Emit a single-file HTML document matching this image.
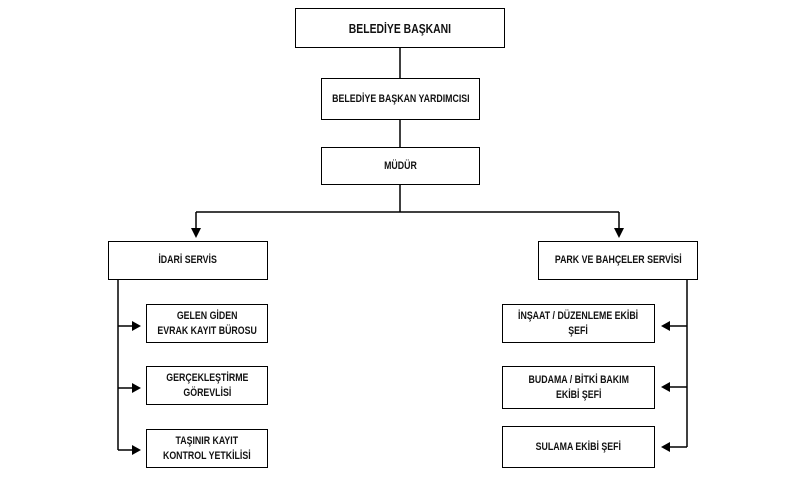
<!DOCTYPE html>
<html><head><meta charset="utf-8"><style>
body{margin:0;width:800px;height:502px;background:#fff;position:relative;overflow:hidden;font-family:"Liberation Sans",sans-serif;}
.b{position:absolute;border:1px solid #000;box-sizing:border-box;display:flex;align-items:center;justify-content:center;text-align:center;font-size:11px;font-weight:bold;line-height:15px;color:#111;background:#fff;white-space:nowrap}
.b span{display:inline-block;transform:scaleX(0.8)}
</style></head><body>
<svg width="800" height="502" style="position:absolute;left:0;top:0">
<g stroke="#000" stroke-width="1.5" fill="none">
<line x1="400" y1="48" x2="400" y2="78"/>
<line x1="400" y1="120" x2="400" y2="147"/>
<line x1="400" y1="185" x2="400" y2="212"/>
<line x1="196" y1="212" x2="619" y2="212"/>
<line x1="196" y1="212" x2="196" y2="230"/>
<line x1="619" y1="212" x2="619" y2="230"/>
<line x1="118" y1="280" x2="118" y2="450"/>
<line x1="118" y1="326" x2="134" y2="326"/>
<line x1="118" y1="388" x2="134" y2="388"/>
<line x1="118" y1="450" x2="134" y2="450"/>
<line x1="687" y1="280" x2="687" y2="447"/>
<line x1="687" y1="326" x2="668" y2="326"/>
<line x1="687" y1="387" x2="668" y2="387"/>
<line x1="687" y1="447" x2="668" y2="447"/>
</g>
<g fill="#000">
<polygon points="191,228 201,228 196,238"/>
<polygon points="614,228 624,228 619,238"/>
<polygon points="132,321 132,331 141,326"/>
<polygon points="132,383 132,393 141,388"/>
<polygon points="132,445 132,455 141,450"/>
<polygon points="670,321 670,331 661,326"/>
<polygon points="670,382 670,392 661,387"/>
<polygon points="670,442 670,452 661,447"/>
</g>
</svg>
<div class="b" style="left:295px;top:8px;width:210px;height:40px;font-size:13px"><span>BELEDİYE BAŞKANI</span></div>
<div class="b" style="left:321px;top:78px;width:159px;height:42px"><span>BELEDİYE BAŞKAN YARDIMCISI</span></div>
<div class="b" style="left:321px;top:147px;width:159px;height:38px"><span>MÜDÜR</span></div>
<div class="b" style="left:108px;top:241px;width:160px;height:39px"><span>İDARİ SERVİS</span></div>
<div class="b" style="left:538px;top:241px;width:160px;height:39px"><span>PARK VE BAHÇELER SERVİSİ</span></div>
<div class="b" style="left:146px;top:304px;width:122px;height:39px"><span>GELEN GİDEN<br>EVRAK KAYIT BÜROSU</span></div>
<div class="b" style="left:146px;top:366px;width:122px;height:39px"><span>GERÇEKLEŞTİRME<br>GÖREVLİSİ</span></div>
<div class="b" style="left:146px;top:429px;width:122px;height:39px"><span>TAŞINIR KAYIT<br>KONTROL YETKİLİSİ</span></div>
<div class="b" style="left:502px;top:304px;width:153px;height:39px"><span>İNŞAAT / DÜZENLEME EKİBİ<br>ŞEFİ</span></div>
<div class="b" style="left:502px;top:366px;width:153px;height:43px"><span>BUDAMA / BİTKİ BAKIM<br>EKİBİ ŞEFİ</span></div>
<div class="b" style="left:502px;top:426px;width:153px;height:42px"><span>SULAMA EKİBİ ŞEFİ</span></div>
</body></html>
